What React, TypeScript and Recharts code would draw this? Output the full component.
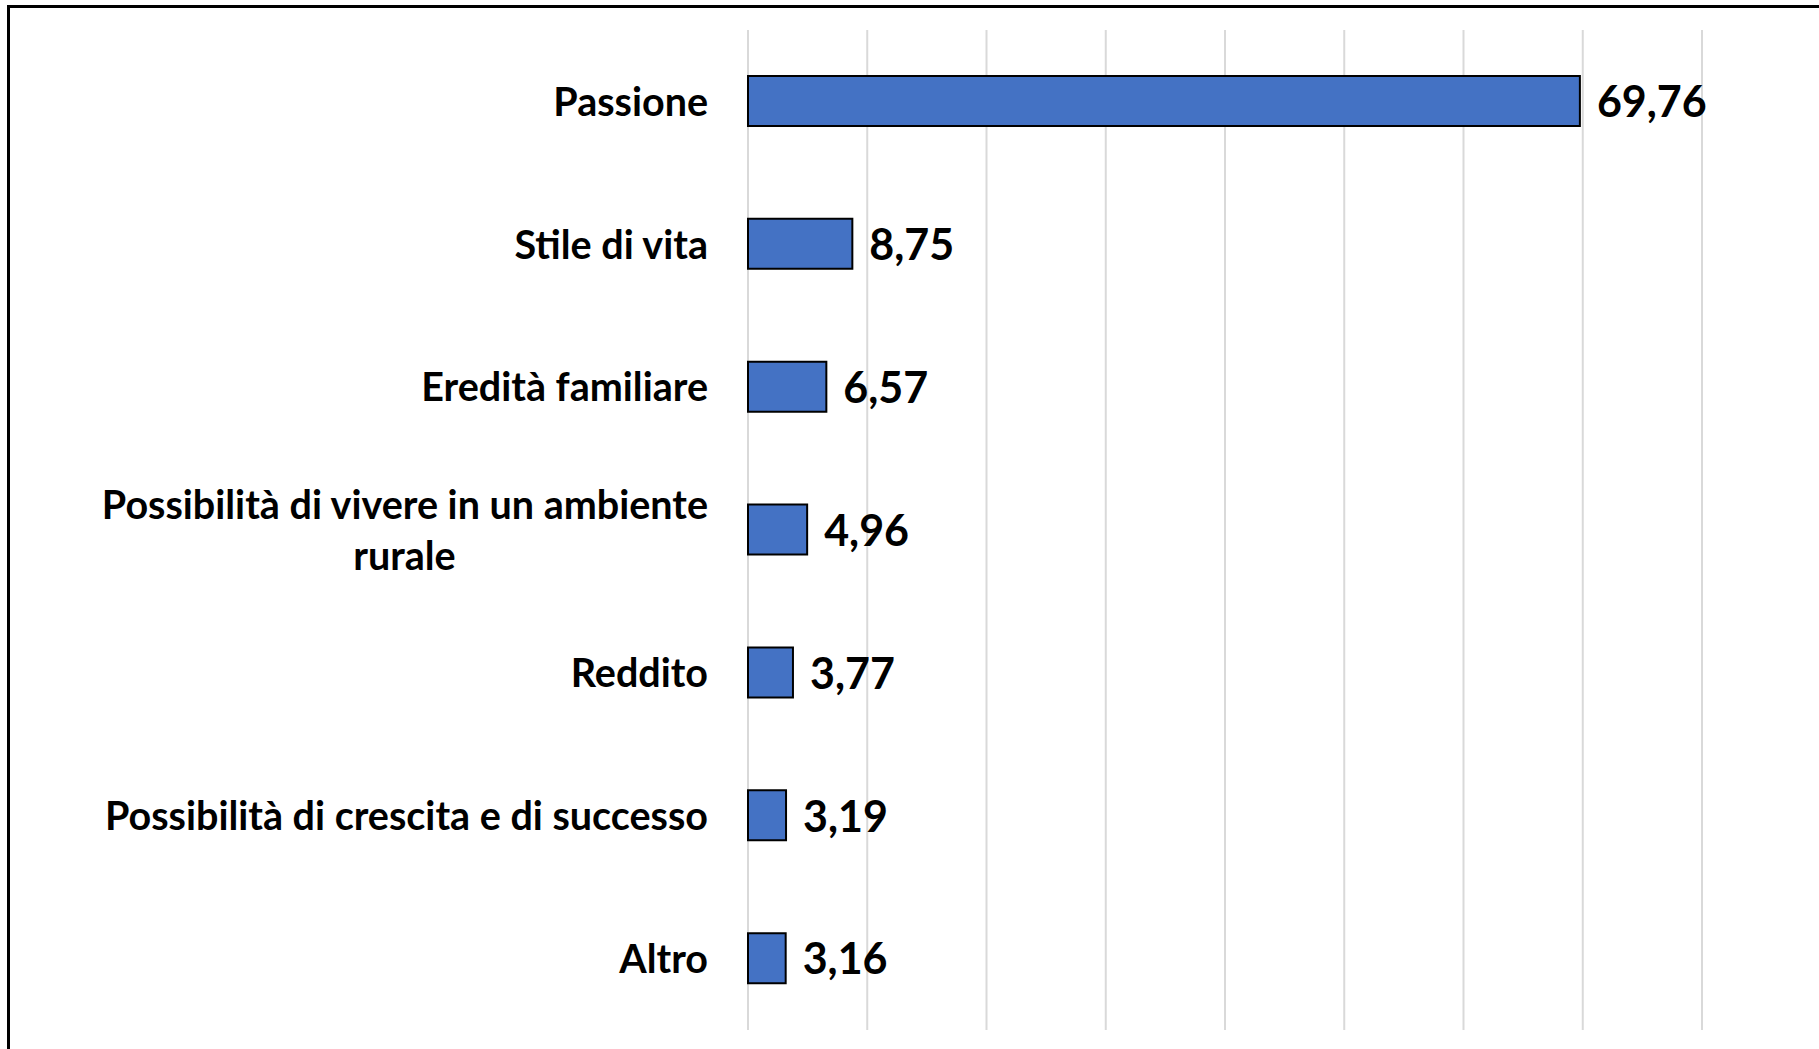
import React from "react";
import { BarChart, Bar, XAxis, YAxis, CartesianGrid, LabelList } from "recharts";

const categories = [
  "Passione",
  "Stile di vita",
  "Eredità familiare",
  "Possibilità di vivere in un ambiente|rurale",
  "Reddito",
  "Possibilità di crescita e di successo",
  "Altro",
];
const values = [69.76, 8.75, 6.57, 4.96, 3.77, 3.19, 3.16];
const xTicks = [0, 10, 20, 30, 40, 50, 60, 70, 80];

const data = categories.map((name, i) => ({ name, value: values[i] }));

const FONT = "Lato, 'Open Sans', sans-serif";
const CAT_SIZE = 39.5;

function measure(text: string): number {
  if (typeof document === "undefined") return text.length * CAT_SIZE * 0.5;
  const c = document.createElement("canvas");
  const ctx = c.getContext("2d");
  if (!ctx) return text.length * CAT_SIZE * 0.5;
  ctx.font = `bold ${CAT_SIZE}px Lato`;
  return ctx.measureText(text).width;
}

const CatTick = (props: any) => {
  const { x, y, payload } = props;
  const lines = String(payload.value).split("|");
  if (lines.length === 1) {
    return (
      <text x={x} y={y} dy="0.36em" textAnchor="end" fontFamily={FONT} fontWeight="bold" fontSize={CAT_SIZE} fill="#000">
        {lines[0]}
      </text>
    );
  }
  const w = measure(lines[0]);
  const lh = 51;
  const top = y - ((lines.length - 1) * lh) / 2;
  return (
    <g>
      {lines.map((l, i) => (
        <text
          key={i}
          x={i === 0 ? x : x - w / 2}
          y={top + i * lh}
          dy="0.36em"
          textAnchor={i === 0 ? "end" : "middle"}
          fontFamily={FONT}
          fontWeight="bold"
          fontSize={CAT_SIZE}
          fill="#000"
        >
          {l}
        </text>
      ))}
    </g>
  );
};

const fmt = (v: any) => Number(v).toFixed(2).replace(".", ",");

const ValueLabel = (props: any) => {
  const { x, y, width, height, value } = props;
  return (
    <text
      x={x + width + 17}
      y={y + height / 2}
      dy="0.38em"
      textAnchor="start"
      fontFamily={FONT}
      fontWeight="bold"
      fontSize={43}
      fill="#000"
    >
      {fmt(value)}
    </text>
  );
};

export default function App() {
  return (
    <div style={{ position: "absolute", left: 0, top: 0, width: 1819, height: 1049, overflow: "hidden", background: "#fff" }}>
      <div
        style={{
          position: "absolute",
          left: 7,
          top: 5,
          width: 2000,
          height: 1200,
          border: "3px solid #000",
          boxSizing: "border-box",
        }}
      />
      <div style={{ position: "absolute", left: 0, top: 0 }}>
        <BarChart
          width={1819}
          height={1049}
          data={data}
          layout="vertical"
          margin={{ top: 30, right: 117, bottom: 19, left: 0 }}
        >
          <CartesianGrid horizontal={false} vertical={true} stroke="#d9d9d9" strokeWidth={2} />
          <XAxis type="number" domain={[0, 80]} ticks={xTicks} hide />
          <YAxis
            type="category"
            dataKey="name"
            width={748}
            axisLine={false}
            tickLine={false}
            tickSize={0}
            tickMargin={40}
            tick={<CatTick />}
            interval={0}
          />
          <Bar dataKey="value" fill="#4472C4" stroke="#000" strokeWidth={2} barSize={50} isAnimationActive={false}>
            <LabelList dataKey="value" content={<ValueLabel />} />
          </Bar>
        </BarChart>
      </div>
    </div>
  );
}
